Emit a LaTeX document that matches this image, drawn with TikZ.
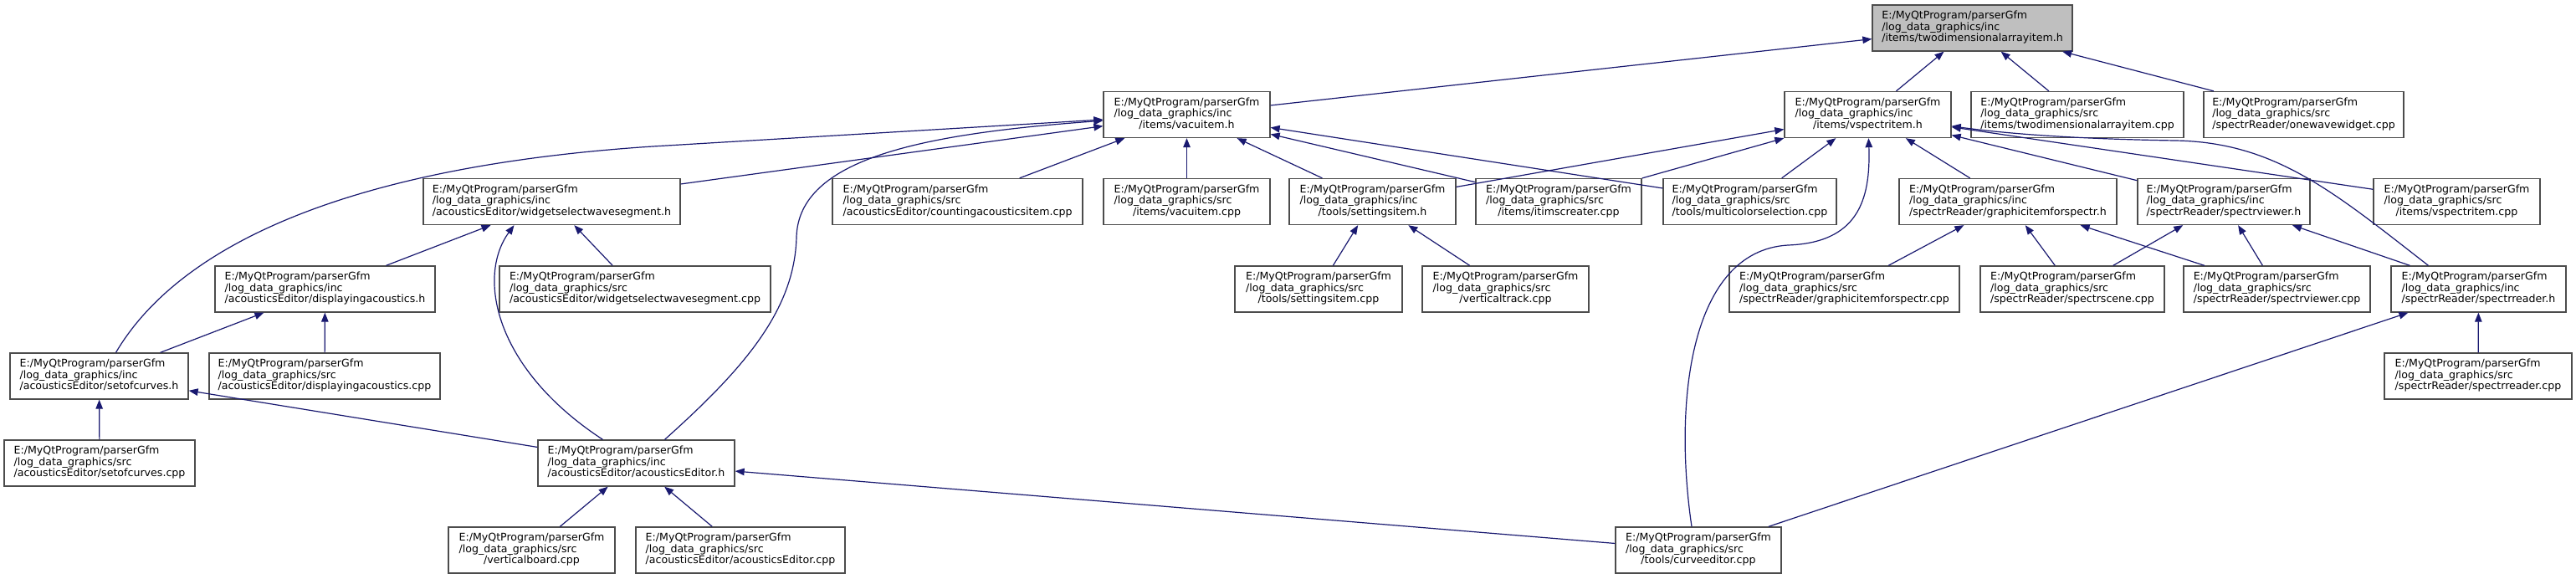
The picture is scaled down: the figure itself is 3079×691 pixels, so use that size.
\documentclass[tikz,border=0pt]{standalone}
\usepackage{fontspec}
\setmainfont{DejaVu Sans}
\usetikzlibrary{arrows.meta}
\definecolor{midnight}{RGB}{25,25,112}
\newcommand{\fpath}[2]{\begin{tabular}{@{}l@{}}E:/MyQtProgram/parserGfm\\/log\_data\_graphics/#1\\\multicolumn{1}{@{}c@{}}{#2}\end{tabular}}

\begin{document}
\begin{tikzpicture}[x=1pt, y=-1pt,
    filebox/.style={draw=black!70, line width=1.3pt, fill=white, minimum width=#1pt, minimum height=55pt, inner sep=0pt, font=\fontsize{12.6}{13.7}\selectfont},
    dep/.style={-{Triangle[length=11pt,width=8.5pt]}, midnight, line width=1.2pt}]
    \path[use as bounding box, fill=white] (0,0) rectangle (3079,691);
    \node[filebox=239, fill=black!25] (top) at (2357.5,33.5) {\fpath{inc}{/items/twodimensionalarrayitem.h}};
    \node[filebox=199] (vach) at (1418.5,137) {\fpath{inc}{/items/vacuitem.h}};
    \node[filebox=199] (vsph) at (2232.5,137) {\fpath{inc}{/items/vspectritem.h}};
    \node[filebox=254] (twoc) at (2483,137) {\fpath{src}{/items/twodimensionalarrayitem.cpp}};
    \node[filebox=239] (onew) at (2753.5,137) {\fpath{src}{/spectrReader/onewavewidget.cpp}};
    \node[filebox=307] (wsh) at (659.5,241) {\fpath{inc}{/acousticsEditor/widgetselectwavesegment.h}};
    \node[filebox=299] (cnt) at (1144.5,241) {\fpath{src}{/acousticsEditor/countingacousticsitem.cpp}};
    \node[filebox=199] (vacc) at (1418.5,241) {\fpath{src}{/items/vacuitem.cpp}};
    \node[filebox=199] (seth) at (1640.5,241) {\fpath{inc}{/tools/settingsitem.h}};
    \node[filebox=198] (itim) at (1863,241) {\fpath{src}{/items/itimscreater.cpp}};
    \node[filebox=207] (multi) at (2091.5,241) {\fpath{src}{/tools/multicolorselection.cpp}};
    \node[filebox=260] (gfh) at (2400,241) {\fpath{inc}{/spectrReader/graphicitemforspectr.h}};
    \node[filebox=206] (svh) at (2658,241) {\fpath{inc}{/spectrReader/spectrviewer.h}};
    \node[filebox=199] (vspc) at (2936.5,241) {\fpath{src}{/items/vspectritem.cpp}};
    \node[filebox=263] (dah) at (388.5,345.5) {\fpath{inc}{/acousticsEditor/displayingacoustics.h}};
    \node[filebox=324] (wsc) at (759,345.5) {\fpath{src}{/acousticsEditor/widgetselectwavesegment.cpp}};
    \node[filebox=200] (setc) at (1576,345.5) {\fpath{src}{/tools/settingsitem.cpp}};
    \node[filebox=199] (vtr) at (1799.5,345.5) {\fpath{src}{/verticaltrack.cpp}};
    \node[filebox=275] (gfc) at (2204.5,345.5) {\fpath{src}{/spectrReader/graphicitemforspectr.cpp}};
    \node[filebox=220] (scene) at (2477,345.5) {\fpath{src}{/spectrReader/spectrscene.cpp}};
    \node[filebox=223] (svc) at (2721.5,345.5) {\fpath{src}{/spectrReader/spectrviewer.cpp}};
    \node[filebox=209] (sprh) at (2962.5,345.5) {\fpath{inc}{/spectrReader/spectrreader.h}};
    \node[filebox=213] (soch) at (118.5,449.5) {\fpath{inc}{/acousticsEditor/setofcurves.h}};
    \node[filebox=276] (dac) at (388,449.5) {\fpath{src}{/acousticsEditor/displayingacoustics.cpp}};
    \node[filebox=224] (sprc) at (2962,449.5) {\fpath{src}{/spectrReader/spectrreader.cpp}};
    \node[filebox=228] (socc) at (119,553.5) {\fpath{src}{/acousticsEditor/setofcurves.cpp}};
    \node[filebox=235] (aeh) at (760.5,553.5) {\fpath{inc}{/acousticsEditor/acousticsEditor.h}};
    \node[filebox=199] (vb) at (635.5,657.5) {\fpath{src}{/verticalboard.cpp}};
    \node[filebox=250] (aec) at (885,657.5) {\fpath{src}{/acousticsEditor/acousticsEditor.cpp}};
    \node[filebox=198] (ce) at (2030,657.5) {\fpath{src}{/tools/curveeditor.cpp}};
    \foreach \a/\b in {vach/top,vsph/top,twoc/top,onew/top,wsh/vach,cnt/vach,vacc/vach,seth/vach,itim/vach,multi/vach,
        seth/vsph,itim/vsph,multi/vsph,gfh/vsph,svh/vsph,vspc/vsph,dah/wsh,wsc/wsh,setc/seth,vtr/seth,
        gfc/gfh,scene/gfh,svc/gfh,scene/svh,svc/svh,sprh/svh,soch/dah,dac/dah,sprc/sprh,ce/sprh,
        socc/soch,aeh/soch,vb/aeh,aec/aeh,ce/aeh}
        \draw[dep] (\a) -- (\b);
    \draw[dep] ([xshift=20pt]soch.north) .. controls (210,300) and (400,200) .. (780,175) -- (vach);
    \draw[dep] ([xshift=34pt]aeh.north) .. controls (890,440) and (950,370) .. (952,283) .. controls (955,190) and (1100,160) .. (vach);
    \draw[dep] ([xshift=-40pt]aeh.north) .. controls (590,440) and (570,330) .. ([xshift=-45pt]wsh.south);
    \draw[dep] ([xshift=-60pt]sprh.north) .. controls (2790,230) and (2720,170) .. (2600,168) .. controls (2480,166) and (2400,160) .. (vsph);
    \draw[dep] ([xshift=-8pt]ce.north) .. controls (2000,480) and (2020,300) .. (2137,293) .. controls (2220,290) and (2236,240) .. (vsph);
\end{tikzpicture}
\end{document}
